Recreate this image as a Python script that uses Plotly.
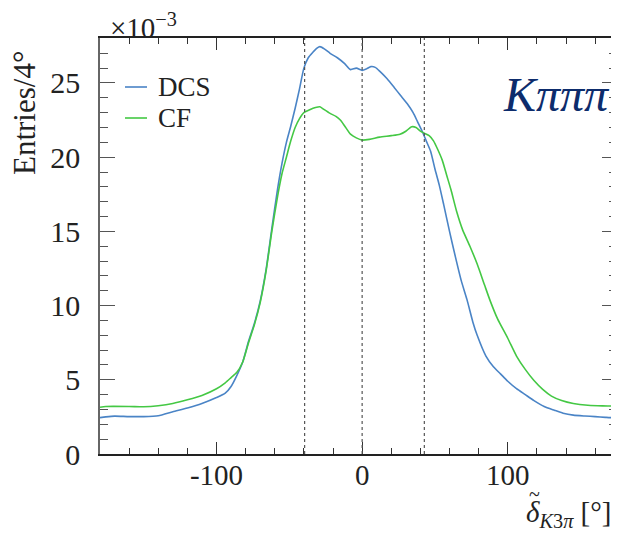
import plotly.graph_objects as go

# ---- data (values in units of 1e-3) ----
dcs_x = [-180, -176, -170, -160, -150, -140, -130, -120, -110, -100, -94, -90, -86, -82, -78, -74, -70,
         -66, -62, -58, -55, -52, -49, -46, -43, -40, -37, -34, -31, -29, -26, -22, -17, -12, -8, -4,
         0, 3, 6, 9, 12, 17, 22, 26, 31, 35, 38, 41, 44, 47, 50, 53, 56, 60, 64, 68, 72, 76, 79, 85,
         90, 95, 100, 106, 112, 118, 125, 132, 138, 145, 153, 160, 167, 172, 175]
dcs_y = [2.45, 2.5, 2.55, 2.52, 2.52, 2.58, 2.85, 3.1, 3.4, 3.8, 4.1, 4.55, 5.3, 6.2, 7.6, 8.8, 10.3,
         12.4, 15.2, 17.9, 19.6, 21.0, 22.1, 23.3, 24.6, 26.0, 26.7, 27.05, 27.35, 27.45, 27.3, 27.0,
         26.7, 26.3, 25.9, 26.0, 25.85, 25.95, 26.1, 26.05, 25.8, 25.3, 24.7, 24.2, 23.6, 23.0, 22.4,
         21.8, 21.1, 20.4, 19.2, 18.1, 16.8, 15.0, 13.3, 11.7, 10.4, 8.9, 8.0, 6.6, 5.9, 5.4, 4.9,
         4.4, 4.0, 3.6, 3.2, 2.95, 2.75, 2.62, 2.56, 2.52, 2.47, 2.45, 2.5]

cf_x = [-180, -176, -160, -150, -140, -130, -120, -110, -100, -94, -90, -86, -82, -78, -74, -70, -66,
        -62, -58, -55, -52, -49, -46, -43, -40, -36, -32, -29, -26, -22, -18, -15, -12, -8, -4, 0, 5,
        12, 20, 26, 30, 34, 37, 40, 43, 46, 49, 52, 55, 58, 61, 65, 69, 74, 79, 84, 88, 93, 100, 106,
        112, 118, 124, 130, 137, 145, 155, 165, 175]
cf_y = [3.15, 3.2, 3.2, 3.18, 3.25, 3.4, 3.65, 3.95, 4.4, 4.8, 5.15, 5.5, 6.2, 7.5, 8.7, 10.2, 12.3,
        15.0, 17.4, 18.9, 20.0, 21.1, 22.0, 22.6, 23.0, 23.2, 23.35, 23.4, 23.2, 22.95, 22.75, 22.5,
        22.1, 21.55, 21.3, 21.15, 21.2, 21.35, 21.45, 21.55, 21.75, 22.05, 22.0, 21.75, 21.6, 21.45,
        21.1, 20.5, 19.8, 18.8, 17.8, 16.3, 15.1, 14.0, 12.8, 11.4, 10.3, 9.1, 7.8, 6.6, 5.7, 4.95,
        4.35, 3.9, 3.6, 3.4, 3.28, 3.24, 3.24]

boundaries = [-39.5, 0, 42.7]
x_ticks = [-100, 0, 100]
x_ticklabels = ["-100", "0", "100"]
y_ticks = [0, 5, 10, 15, 20, 25]
y_ticklabels = ["0", "5", "10", "15", "20", "25"]
series_names = ["DCS", "CF"]
colors = ["#4a84c6", "#44c844"]

FONT = "Liberation Serif"
TXT = "#222222"

fig = go.Figure()
fig.add_trace(go.Scatter(x=dcs_x, y=dcs_y, mode="lines", name=series_names[0],
                         line=dict(color=colors[0], width=1.6, shape="spline", smoothing=0.6),
                         showlegend=False))
fig.add_trace(go.Scatter(x=cf_x, y=cf_y, mode="lines", name=series_names[1],
                         line=dict(color=colors[1], width=1.6, shape="spline", smoothing=0.6),
                         showlegend=False))

for b in boundaries:
    fig.add_vline(x=b, line=dict(color="#555555", width=1.2, dash="dot"))

PW, PH = 517, 416  # plot area size in px (screen x 100..617, y 38..454)

def px(xp):
    return (xp - 100) / PW

def py(yp):
    return (454 - yp) / PH

# manual legend
for i, (nm, c) in enumerate(zip(series_names, colors)):
    yy = 87 + 31 * i
    fig.add_shape(type="line", xref="paper", yref="paper",
                  x0=px(125), x1=px(147), y0=py(yy), y1=py(yy),
                  line=dict(color=c, width=1.6))
    fig.add_annotation(text=nm, xref="paper", yref="paper",
                       x=px(156), y=py(yy), xanchor="left", yanchor="middle", showarrow=False,
                       font=dict(family=FONT, size=27, color=TXT))

fig.add_annotation(text="×10<sup>−3</sup>", xref="paper", yref="paper",
                   x=px(108), y=py(38), xanchor="left", yanchor="bottom",
                   yshift=-8, showarrow=False,
                   font=dict(family=FONT, size=29, color=TXT))

fig.add_annotation(text="Entries/4°", xref="paper", yref="paper",
                   x=px(24), y=py(113), textangle=-90,
                   xanchor="center", yanchor="middle", showarrow=False,
                   font=dict(family=FONT, size=31, color=TXT))

# x-axis title: delta with tilde
fig.add_annotation(text="<i>δ</i><sub><i>K</i>3<i>π</i></sub> [°]", xref="paper", yref="paper",
                   x=px(524), y=py(514), xanchor="left", yanchor="middle",
                   showarrow=False, font=dict(family=FONT, size=29, color=TXT))
fig.add_annotation(text="~", xref="paper", yref="paper",
                   x=px(534), y=py(494), xanchor="center", yanchor="middle",
                   showarrow=False, font=dict(family=FONT, size=20, color=TXT))

fig.add_annotation(text="<i>Kπππ</i>", xref="paper", yref="paper",
                   x=px(501), y=py(95), xanchor="left", yanchor="middle",
                   showarrow=False, font=dict(family=FONT, size=48, color="#0d2c6c"))

fig.update_layout(
    width=611, height=527,
    margin=dict(l=92, r=2, t=30, b=81, autoexpand=False),
    paper_bgcolor="white", plot_bgcolor="white",
    font=dict(family=FONT, size=29, color=TXT),
    xaxis=dict(range=[-180, 175], tickvals=x_ticks, ticktext=x_ticklabels, automargin=False,
               ticks="inside", ticklen=12, tickwidth=1.2, tickcolor="#333333",
               minor=dict(dtick=20, tick0=0, ticks="inside", ticklen=6, tickcolor="#333333"),
               showline=True, linecolor="#222222", linewidth=2, mirror="ticks",
               ticklabelstandoff=-6,
               showgrid=False, zeroline=False, tickfont=dict(family=FONT, size=29)),
    yaxis=dict(range=[0, 28.03], tickvals=y_ticks, ticktext=y_ticklabels, automargin=False,
               ticks="inside", ticklen=15, tickwidth=1.2, tickcolor="#555555",
               minor=dict(dtick=1, tick0=0, ticks="inside", ticklen=8, tickcolor="#555555"),
               showline=True, linecolor="#666666", linewidth=1.5, mirror="ticks",
               ticklabelstandoff=12,
               showgrid=False, zeroline=False, tickfont=dict(family=FONT, size=30)),
)

fig.write_html("out.html")
